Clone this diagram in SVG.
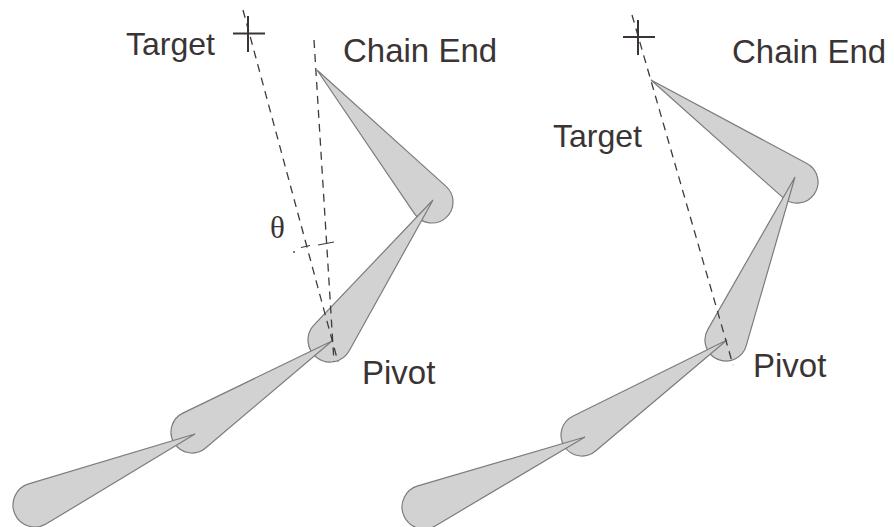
<svg xmlns="http://www.w3.org/2000/svg" width="894" height="527" viewBox="0 0 894 527">
  <style>
    .bone { fill: #d2d2d2; stroke: #7c7c7c; stroke-width: 1.2; stroke-linejoin: miter; }
    .guide { fill: none; stroke: #3c3c3c; stroke-width: 1.3; stroke-dasharray: 8 6; }
    .mark { fill: none; stroke: #3a3434; stroke-width: 2; }
    .tick { fill: none; stroke: #3c3c3c; stroke-width: 1.1; }
    .label { font-family: "Liberation Sans", Arial, sans-serif; font-size: 32px; fill: #3a3434; }
    .greek { font-family: "Liberation Serif", "Times New Roman", serif; font-size: 31px; fill: #3a3434; }
  </style>
  <rect width="894" height="527" fill="#ffffff"/>

  <!-- Left chain: bones drawn from the chain end down to the root, so each tip sits over the next joint -->
  <g id="left-bone-4">
    <path class="bone" d="M446.07,186.41 L317,70 L414.62,213.79 A21,21 0 1 0 446.07,186.41 Z"/>
  </g>
  <g id="left-bone-3">
    <path class="bone" d="M349.23,350.69 L433,200 L314.07,324.82 A22,22 0 1 0 349.23,350.69 Z"/>
  </g>
  <g id="left-bone-2">
    <path class="bone" d="M205.56,448.03 L332,341 L182.86,413.09 A21,21 0 1 0 205.56,448.03 Z"/>
  </g>
  <g id="left-bone-1">
    <path class="bone" d="M46.38,523.83 L195,434 L28.67,483.93 A22,22 0 1 0 46.38,523.83 Z"/>
  </g>

  <!-- Right chain: same chain after rotation about the pivot -->
  <g id="right-bone-4">
    <path class="bone" d="M806.91,163.49 L651,80 L783.02,197.67 A21,21 0 1 0 806.91,163.49 Z"/>
  </g>
  <g id="right-bone-3">
    <path class="bone" d="M746.17,345.83 L795,177 L707.77,329.58 A21,21 0 1 0 746.17,345.83 Z"/>
  </g>
  <g id="right-bone-2">
    <path class="bone" d="M595.55,451.05 L727,340 L572.71,416.17 A21,21 0 1 0 595.55,451.05 Z"/>
  </g>
  <g id="right-bone-1">
    <path class="bone" d="M435.23,525.92 L585,437 L417.82,485.88 A22,22 0 1 0 435.23,525.92 Z"/>
  </g>

  <!-- Dashed guide lines from the pivot -->
  <g id="connectors">
    <line class="guide" x1="243" y1="10" x2="338" y2="362"/>
    <line class="guide" x1="314" y1="40" x2="334" y2="362"/>
    <line class="guide" x1="632" y1="15" x2="733" y2="365"/>
  </g>

  <!-- Angle marks between the two left guides -->
  <g id="angle-theta">
    <circle cx="294" cy="252" r="0.9" fill="#3c3c3c"/>
    <line class="tick" x1="301" y1="247.5" x2="310" y2="245.5"/>
    <line class="tick" x1="318" y1="245" x2="334" y2="242"/>
    <text class="greek" x="270" y="238">θ</text>
  </g>

  <!-- Target markers -->
  <g id="left-target">
    <line class="mark" x1="233" y1="33.5" x2="265" y2="33.5"/>
    <line class="mark" x1="248" y1="16" x2="248" y2="52"/>
    <text class="label" x="126" y="55">Target</text>
  </g>
  <g id="right-target">
    <line class="mark" x1="623" y1="37" x2="655" y2="37"/>
    <line class="mark" x1="638" y1="20" x2="638" y2="55"/>
    <text class="label" x="553" y="147">Target</text>
  </g>

  <!-- Labels -->
  <g id="left-chain-end"><text class="label" x="343" y="62" style="font-size:33px">Chain End</text></g>
  <g id="left-pivot"><text class="label" x="362" y="384" style="font-size:33px">Pivot</text></g>
  <g id="right-chain-end"><text class="label" x="732" y="63" style="font-size:33px">Chain End</text></g>
  <g id="right-pivot"><text class="label" x="753" y="377" style="font-size:33px">Pivot</text></g>
</svg>
